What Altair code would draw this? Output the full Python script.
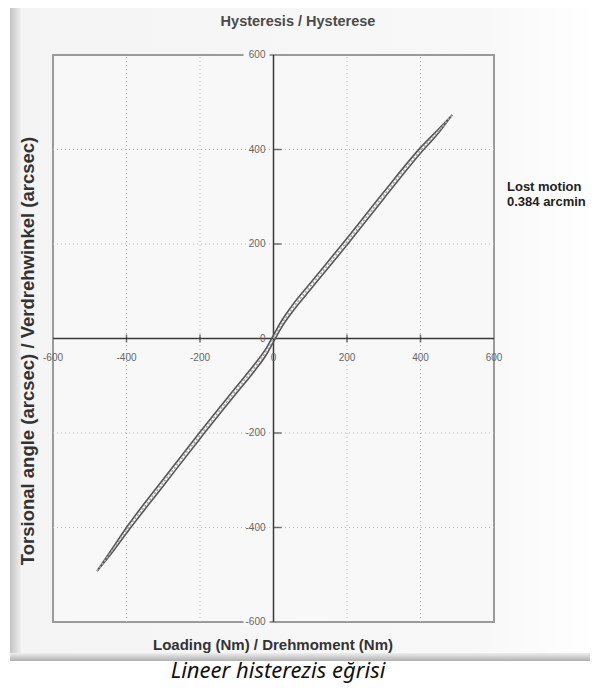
import altair as alt
import pandas as pd

# ---- data ----
load_x = [-480, -440, -400, -300, -200, -100, -50, -20, 0, 20, 50, 100, 200, 300, 400, 450, 486]
upper_y = [-492, -446, -400, -298, -198, -101, -53, -21, 7, 35, 69, 117, 212, 310, 404, 444, 473]
lower_y = [-492, -454, -412, -312, -212, -115, -67, -35, -7, 21, 55, 103, 198, 296, 392, 436, 473]
mid_y = [-492, -450, -406, -305, -205, -108, -60, -28, 0, 28, 62, 110, 205, 303, 398, 440, 473]

tick_vals = [-600, -400, -200, 0, 200, 400, 600]
grid_vals = [-400, -200, 200, 400]
domain = [-600, 600]

title_txt = "Hysteresis / Hysterese"
x_title = "Loading (Nm) / Drehmoment (Nm)"
y_title = "Torsional angle (arcsec) / Verdrehwinkel (arcsec)"
note_lines = ["Lost motion", "0.384 arcmin"]
caption = "Lineer histerezis eğrisi"

W, H = 441, 567
FONT = "Liberation Sans"

xs = alt.Scale(domain=domain, nice=False, zero=False)
ys = alt.Scale(domain=domain, nice=False, zero=False)

def X(f="x"):
    return alt.X(f"{f}:Q", scale=xs, axis=None)

def Y(f="y"):
    return alt.Y(f"{f}:Q", scale=ys, axis=None)

one = pd.DataFrame({"a": [0]})

# card background and bevels (decoration)
card = alt.Chart(one).mark_rect(
    color=alt.LinearGradient(gradient="linear", x1=0, x2=1, y1=0, y2=0,
        stops=[alt.GradientStop(color="#f4f4f4", offset=0),
               alt.GradientStop(color="#f8f8f8", offset=0.8),
               alt.GradientStop(color="#ffffff", offset=1)])
).encode(x=alt.value(-43), x2=alt.value(545), y=alt.value(-50), y2=alt.value(605))

left_bevel = alt.Chart(one).mark_rect(
    color=alt.LinearGradient(gradient="linear", x1=0, x2=1, y1=0, y2=0,
        stops=[alt.GradientStop(color="#c4c4c4", offset=0),
               alt.GradientStop(color="#efefef", offset=1)])
).encode(x=alt.value(-43), x2=alt.value(-32), y=alt.value(-50), y2=alt.value(605))

bottom_bevel = alt.Chart(one).mark_rect(
    color=alt.LinearGradient(gradient="linear", x1=0, x2=0, y1=0, y2=1,
        stops=[alt.GradientStop(color="#eeeeee", offset=0),
               alt.GradientStop(color="#b0b0b0", offset=1)])
).encode(x=alt.value(-43), x2=alt.value(545), y=alt.value(598), y2=alt.value(606))

frame_df = pd.DataFrame({"x": [domain[0]], "x2": [domain[1]], "y": [domain[0]], "y2": [domain[1]]})
frame = alt.Chart(frame_df).mark_rect(fill="#f8f8f8", stroke="#9a9a9a", strokeWidth=2).encode(
    x=X(), x2="x2:Q", y=Y(), y2="y2:Q")

grid_df = pd.DataFrame({"v": grid_vals, "lo": [domain[0]] * 4, "hi": [domain[1]] * 4})
vgrid = alt.Chart(grid_df).mark_rule(color="#b8b8b8", strokeDash=[1, 3], strokeWidth=1).encode(
    x=X("v"), y=Y("lo"), y2="hi:Q")
hgrid = alt.Chart(grid_df).mark_rule(color="#b8b8b8", strokeDash=[1, 3], strokeWidth=1).encode(
    y=Y("v"), x=X("lo"), x2="hi:Q")

axis_df = pd.DataFrame({"z": [0], "lo": [domain[0]], "hi": [domain[1]]})
xaxis = alt.Chart(axis_df).mark_rule(color="#3a3a3a", strokeWidth=1.5).encode(
    y=Y("z"), x=X("lo"), x2="hi:Q")
yaxis = alt.Chart(axis_df).mark_rule(color="#3a3a3a", strokeWidth=1.5).encode(
    x=X("z"), y=Y("lo"), y2="hi:Q")

tick_df = pd.DataFrame({"v": grid_vals, "z": [0] * 4})
xticks = alt.Chart(tick_df).mark_tick(orient="vertical", size=8, thickness=1.5, color="#333").encode(
    x=X("v"), y=Y("z"))
yticks = alt.Chart(tick_df).mark_tick(orient="horizontal", size=8, thickness=1.5, color="#333", xOffset=4).encode(
    y=Y("v"), x=X("z"))

lab_df = pd.DataFrame({"v": tick_vals, "lab": [str(v) for v in tick_vals], "z": [0] * 7})
edge_df = pd.DataFrame({"v": [domain[0], domain[1]], "z": [0, 0]})
ymask = alt.Chart(edge_df).mark_rect(width=26, height=8, color="#f8f8f8", xOffset=-17).encode(
    x=X("z"), y=Y("v"))
xlabels = alt.Chart(lab_df).mark_text(fontSize=10, font=FONT, color="#666", dy=19, align="center").encode(
    x=X("v"), y=Y("z"), text="lab:N")
ylabels = alt.Chart(lab_df).mark_text(fontSize=10, font=FONT, color="#666", dx=-8, align="right",
                                      baseline="middle").encode(
    y=Y("v"), x=X("z"), text="lab:N")

loop_df = pd.concat([
    pd.DataFrame({"x": load_x, "y": lower_y, "br": "lower", "o": range(len(load_x))}),
    pd.DataFrame({"x": load_x, "y": upper_y, "br": "upper", "o": range(len(load_x))}),
])
mid_df = pd.DataFrame({"x": load_x, "y": mid_y, "o": range(len(load_x))})

loop = alt.Chart(loop_df).mark_line(color="#555555", strokeWidth=1.6, interpolate="monotone").encode(
    x=X(), y=Y(), detail="br:N", order="o:Q")
midline = alt.Chart(mid_df).mark_line(color="#a8a8a8", strokeWidth=1.8, strokeDash=[2, 2],
                                      interpolate="monotone").encode(x=X(), y=Y(), order="o:Q")

def txt(s, x, y, **kw):
    return alt.Chart(pd.DataFrame({"t": [s]})).mark_text(font=FONT, **kw).encode(
        text="t:N", x=alt.value(x), y=alt.value(y))

title = txt(title_txt, 245, -33, fontSize=14.5, fontWeight="bold", color="#4a4a4a")
xt = txt(x_title, 220, 590, fontSize=15, fontWeight="bold", color="#333")
yt = txt(y_title, -25, 296, fontSize=18.5, fontWeight="bold", color="#333", angle=270)
n1 = txt(note_lines[0], 454, 132, fontSize=13, fontWeight="bold", color="#222", align="left")
n2 = txt(note_lines[1], 454, 147, fontSize=13, fontWeight="bold", color="#222", align="left")
cap = alt.Chart(pd.DataFrame({"t": [caption]})).mark_text(
    font="Noto Sans", fontSize=22, fontStyle="italic", color="#111").encode(
    text="t:N", x=alt.value(225), y=alt.value(616))

chart = alt.layer(
    card, left_bevel, bottom_bevel, frame, vgrid, hgrid, xaxis, yaxis, xticks, yticks,
    ymask, xlabels, ylabels, loop, midline, title, xt, yt, n1, n2, cap
).properties(
    width=W, height=H,
    padding={"left": 45, "top": 47, "right": 96, "bottom": 63},
    autosize=alt.AutoSizeParams(type="none"),
    background="white",
).configure_view(stroke=None)

chart.save("out.html", embed_options={"renderer": "svg", "actions": False})
